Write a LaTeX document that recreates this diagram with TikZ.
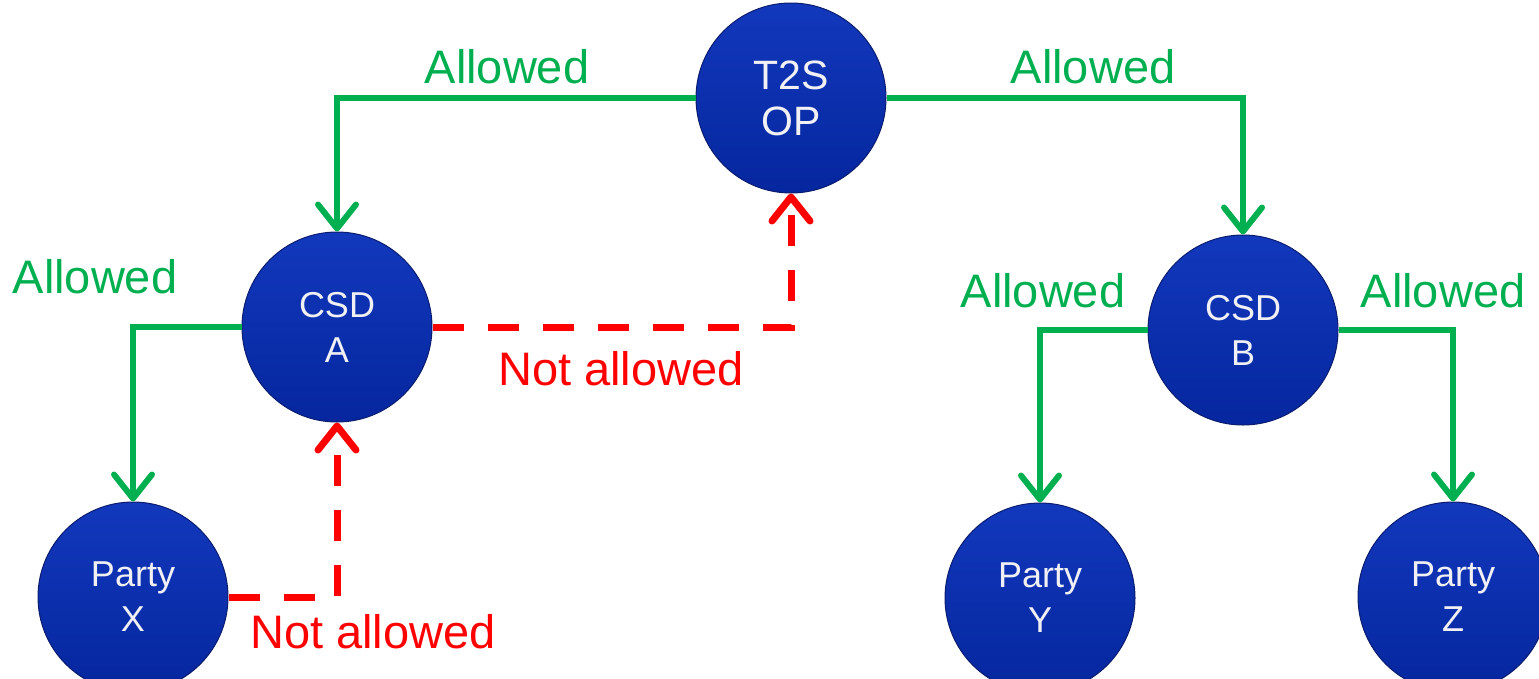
\documentclass[tikz,border=0pt]{standalone}
\usepackage{fontspec}
\setmainfont{Liberation Sans}
\usetikzlibrary{arrows.meta}
\definecolor{okgreen}{RGB}{0,176,80}
\definecolor{nored}{RGB}{255,0,0}
\definecolor{bluetop}{RGB}{18,56,188}
\definecolor{bluebot}{RGB}{5,38,158}
\definecolor{blueedge}{RGB}{10,28,110}
\definecolor{nodetext}{RGB}{240,240,245}
\tikzset{
  party/.style={circle, minimum size=190pt, inner sep=0pt, draw=blueedge, line width=1pt,
    top color=bluetop, bottom color=bluebot, text=nodetext, align=center,
    font=\fontsize{36}{45}\selectfont},
  bigparty/.style={party, font=\fontsize{41}{46}\selectfont},
  okline/.style={draw=okgreen, line width=6pt, -{Straight Barb[length=24pt,width=38pt,round]}},
  noline/.style={draw=nored, line width=7pt, dash pattern=on 31pt off 24pt,
    -{Straight Barb[length=24pt,width=38pt,round]}},
  oklabel/.style={text=okgreen, inner sep=0pt, font=\fontsize{47}{50}\selectfont},
  nolabel/.style={text=nored, inner sep=0pt, font=\fontsize{47}{50}\selectfont},
}
\begin{document}
\begin{tikzpicture}[x=1pt,y=-1pt]
\useasboundingbox (0,0) rectangle (1539,678);
\clip (0,0) rectangle (1539,678);
\node[bigparty] (t2s) at (791,98) {T2S\\OP};
\node[party] (csda) at (337,327) {CSD\\A};
\node[party] (csdb) at (1243,330) {CSD\\B};
\node[party] (px) at (133,597) {Party\\X};
\node[party] (py) at (1040,598) {Party\\Y};
\node[party] (pz) at (1453,597) {Party\\Z};

\draw[okline] (t2s.west) -| (csda.north);
\draw[okline] (t2s.east) -| (csdb.north);
\draw[okline] (csda.west) -| (px.north);
\draw[okline] (csdb.west) -| (py.north);
\draw[okline] (csdb.east) -| (pz.north);
\draw[noline] (csda.east) -| (t2s.south);
\draw[noline] (px.east) -| (csda.south);

\node[oklabel] (l1) at (507,67) {Allowed};
\node[oklabel] (l2) at (1093,67) {Allowed};
\node[oklabel] (l3) at (95,277) {Allowed};
\node[oklabel] (l4) at (1043,291) {Allowed};
\node[oklabel] (l5) at (1443,291) {Allowed};
\node[nolabel] (n1) at (621,369) {Not allowed};
\node[nolabel] (n2) at (373,632) {Not allowed};
\end{tikzpicture}
\end{document}
